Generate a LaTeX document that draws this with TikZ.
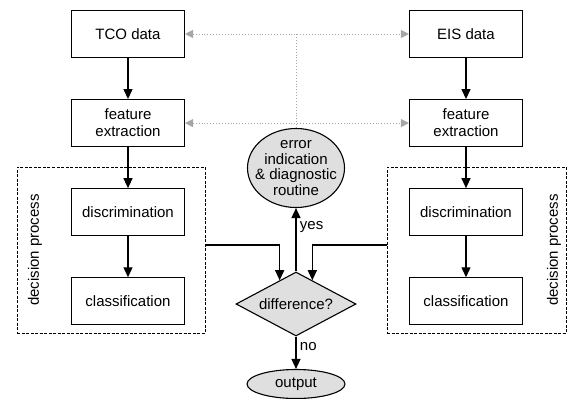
\documentclass[tikz,border=0pt]{standalone}
\usepackage{fontspec}
\setmainfont{Liberation Sans}
\usetikzlibrary{shapes.geometric,arrows.meta,positioning,calc}

\begin{document}
\begin{tikzpicture}[x=1pt, y=-1pt, node distance=41pt, auto,
    font=\fontsize{15}{17}\selectfont,
    block/.style={draw, line width=1.1pt, rectangle, minimum width=113pt, minimum height=47pt, align=center, inner sep=2pt},
    frame/.style={draw, line width=0.9pt, dash pattern=on 3pt off 1.5pt, rectangle, minimum height=166pt},
    bubble/.style={draw, line width=1.1pt, ellipse, fill=gray!25, inner sep=0pt, align=center},
    flow/.style={-{Triangle[length=10pt, width=9pt]}, line width=1.3pt},
    link/.style={{Triangle[length=8pt, width=8pt]}-{Triangle[length=8pt, width=8pt]}, gray!70, dotted, line width=0.9pt}
]
    \useasboundingbox (0,0) rectangle (568,399);

    % Nodes
    \node[block] (tco) at (128,34) {TCO data};
    \node[block, below=of tco] (featl) {feature\\extraction};
    \node[block, below=of featl] (discl) {discrimination};
    \node[block, below=of discl] (classl) {classification};

    \node[block] (eis) at (466,34) {EIS data};
    \node[block, below=of eis] (featr) {feature\\extraction};
    \node[block, below=of featr] (discr) {discrimination};
    \node[block, below=of discr] (classr) {classification};

    \node[frame, minimum width=188pt] (decl) at (111,250) {};
    \node[frame, minimum width=179pt] (decr) at (476.5,250) {};
    \node[rotate=90] (procl) at (35,250) {decision process};
    \node[rotate=90] (procr) at (554,250) {decision process};

    \node[bubble, minimum width=97pt, minimum height=79pt, inner sep=-12pt, font=\fontsize{15}{15.5}\selectfont] (err) at (296,168) {error\\indication\\\& diagnostic\\routine};
    \node[draw, diamond, fill=gray!25, line width=1.1pt, aspect=1.9, minimum width=120pt, minimum height=64pt, inner sep=0pt] (diff) at (296,304) {difference?};
    \node[bubble, minimum width=98pt, minimum height=29pt] (out) at (296,384) {output};

    % Arrows
    \draw[flow] (tco) -- (featl);
    \draw[flow] (featl) -- (discl);
    \draw[flow] (discl) -- (classl);
    \draw[flow] (eis) -- (featr);
    \draw[flow] (featr) -- (discr);
    \draw[flow] (discr) -- (classr);
    \draw[flow] ([yshift=5pt]decl.east) -| ($(diff.north)!0.27!(diff.west)$);
    \draw[flow] ([yshift=5pt]decr.west) -| ($(diff.north)!0.27!(diff.east)$);
    \draw[flow] (diff) -- node[right, pos=0.7] {yes} (err);
    \draw[flow] (diff) -- node[right, pos=0.3] {no} (out);

    % Feedback
    \draw[link] (tco) -- (eis);
    \draw[link] (featl) -- (featr);
    \draw[gray!70, dotted, line width=0.9pt] (err) -- (err |- tco);
\end{tikzpicture}
\end{document}
